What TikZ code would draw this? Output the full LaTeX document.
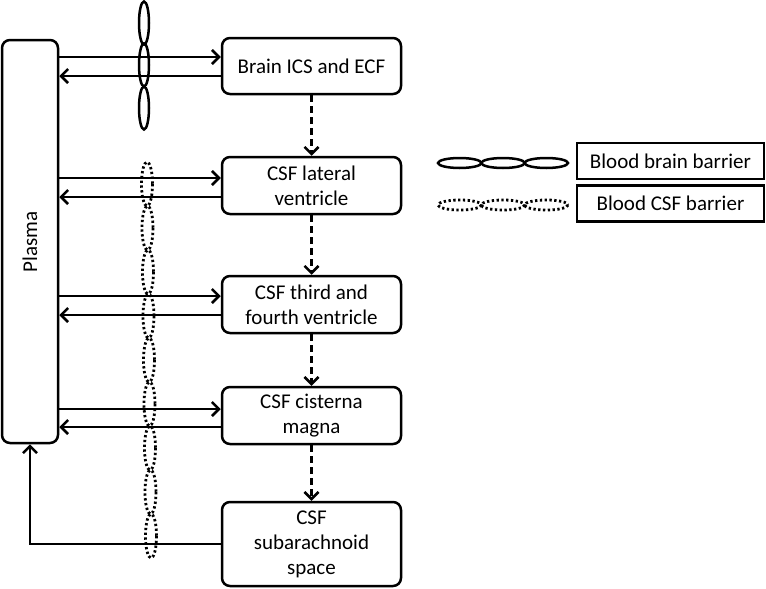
\documentclass[tikz,border=0pt]{standalone}
\usepackage{fontspec}
\setmainfont{Carlito}
\usetikzlibrary{arrows.meta}
\begin{document}
\begin{tikzpicture}[x=1pt,y=-1pt,
  every node/.style={font=\fontsize{21}{25}\selectfont},
  stage/.style={draw,line width=2.5pt,rounded corners=8pt,minimum width=179pt,align=center,inner sep=1pt},
  lbox/.style={draw,line width=2.5pt,minimum width=187pt,minimum height=36pt,inner sep=0pt},
  conn/.style={line width=2.5pt,-{Straight Barb[length=7pt,width=14pt,line width=2.5pt]}},
  flow/.style={conn,dash pattern=on 7pt off 4pt},
  bbb/.style={line width=2.5pt},
  bcsf/.style={line width=2.8pt,dash pattern=on 2.3pt off 2.5pt}]
\useasboundingbox (0,0) rectangle (766,589);
% plasma
\node[draw,line width=2.5pt,rounded corners=8pt,minimum width=56pt,minimum height=403pt,inner sep=0pt] (plasma) at (30,241.5) {};
\node[rotate=90] (plasmatext) at (30,242) {Plasma};
% stages
\node[stage,minimum height=56pt] (brain) at (311.5,66) {Brain ICS and ECF};
\node[stage,minimum height=57pt] (lat) at (311.5,185.5) {CSF lateral\\ventricle};
\node[stage,minimum height=57pt] (third) at (311.5,304.5) {CSF third and\\fourth ventricle};
\node[stage,minimum height=57pt] (cist) at (311.5,415.5) {CSF cisterna\\magna};
\node[stage,minimum height=84pt] (sub) at (311.5,544) {CSF\\subarachnoid\\space};
% exchange arrows
\foreach \n/\a/\b in {brain/57/76, lat/178/197, third/296/315, cist/409/427}{
  \draw[conn] (plasma.east |- 0,\a) -- (\n.west |- 0,\a);
  \draw[conn] (\n.west |- 0,\b) -- (plasma.east |- 0,\b);
}
% flow arrows
\draw[flow] (brain.south) -- (lat.north);
\draw[flow] (lat.south) -- (third.north);
\draw[flow] (third.south) -- (cist.north);
\draw[flow] (cist.south) -- (sub.north);
\draw[conn] (sub.west) -| (plasma.south);
% blood brain barrier
\foreach \y in {23,65,108}{
  \draw[bbb] (144,\y) ellipse [x radius=5, y radius=21.5];
}
% blood CSF barrier
\foreach \i in {0,...,8}{
  \draw[bcsf] ({147+0.5*\i},{184+44*\i}) ellipse [x radius=5.5, y radius=22];
}
% legend
\foreach \x in {459.7,503,546.3}{
  \draw[bbb] (\x,163) ellipse [x radius=21.7, y radius=5];
  \draw[bcsf] (\x,205) ellipse [x radius=21.7, y radius=5];
}
\node[lbox] (l1) at (670.5,161) {Blood brain barrier};
\node[lbox] (l2) at (670.5,203.5) {Blood CSF barrier};
\end{tikzpicture}
\end{document}
